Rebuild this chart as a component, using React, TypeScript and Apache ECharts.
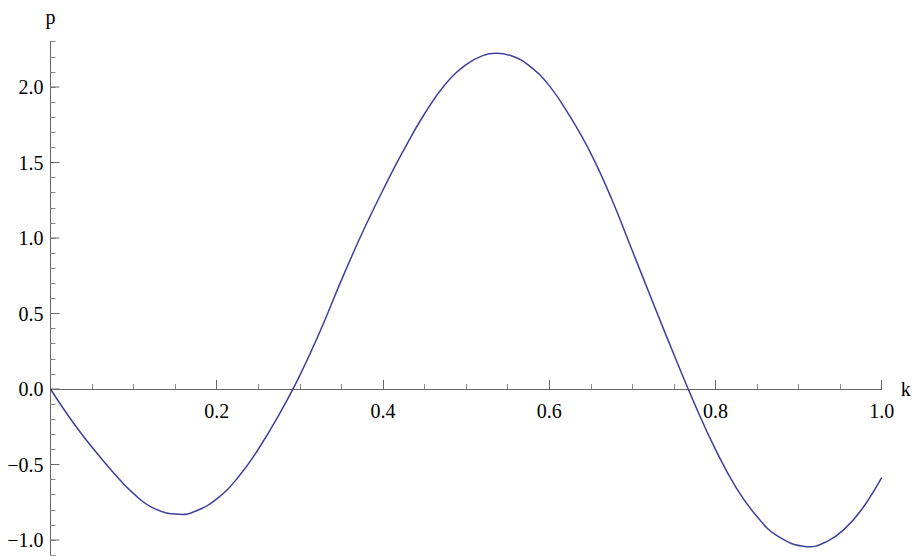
import React, { useEffect, useRef } from "react";
import * as echarts from "echarts";

const kValues = [0, 0.025, 0.05, 0.075, 0.1, 0.125, 0.155, 0.175, 0.2, 0.225, 0.25, 0.275, 0.3, 0.325, 0.35, 0.375, 0.4, 0.425, 0.45, 0.475, 0.5, 0.52, 0.5365, 0.555, 0.575, 0.6, 0.625, 0.65, 0.675, 0.7, 0.725, 0.75, 0.775, 0.8, 0.825, 0.85, 0.875, 0.909, 0.935, 0.955, 0.975, 1.0];
const pValues = [0, -0.205, -0.386, -0.549, -0.693, -0.792, -0.83, -0.808, -0.728, -0.59, -0.399, -0.17, 0.09, 0.391, 0.721, 1.033, 1.318, 1.583, 1.823, 2.018, 2.148, 2.208, 2.223, 2.205, 2.145, 2.009, 1.805, 1.561, 1.26, 0.915, 0.57, 0.228, -0.1, -0.4, -0.655, -0.845, -0.975, -1.044, -1.007, -0.928, -0.805, -0.587];
const xTickLabels = ["0.2", "0.4", "0.6", "0.8", "1.0"];
const yMajorTicks = [-1.0, -0.5, 0.0, 0.5, 1.0, 1.5, 2.0];

const FONT = "'Liberation Serif', 'DejaVu Serif', 'Times New Roman', serif";
const AXIS_COLOR = "#666666";
const MINOR_COLOR = "#8a8a8a";
const CURVE_COLOR = "#3f3f9c";

export default function App() {
  const ref = useRef<HTMLDivElement>(null);
  useEffect(() => {
    if (!ref.current) return;
    const chart = echarts.init(ref.current, undefined, { renderer: "svg" });
    const fmtY = (v: number) => {
      const r = Math.round(v * 10) / 10;
      if (Math.abs(r * 2 - Math.round(r * 2)) > 1e-9) return "";
      const s = Math.abs(r).toFixed(1);
      return r < 0 ? "\u2212" + s : s;
    };
    chart.setOption({
      animation: false,
      backgroundColor: "#ffffff",
      grid: { left: 50.5, right: 31.3, top: 41.7, bottom: 0.9, outerBoundsMode: "none" },
      xAxis: {
        type: "value",
        min: 0,
        max: 1,
        interval: 0.2,
        name: "k",
        nameLocation: "end",
        nameGap: 19,
        nameTextStyle: { fontFamily: FONT, fontSize: 20, color: "#000" },
        axisLine: { show: true, onZero: true, lineStyle: { color: AXIS_COLOR, width: 1 } },
        axisTick: { show: true, inside: true, length: 9, lineStyle: { color: AXIS_COLOR, width: 1 } },
        minorTick: { show: true, splitNumber: 4, length: 5, lineStyle: { color: MINOR_COLOR, width: 1 } },
        splitLine: { show: false },
        minorSplitLine: { show: false },
        axisLabel: { show: false },
      },
      yAxis: {
        type: "value",
        min: -1.1,
        max: 2.3,
        interval: 0.1,
        name: "p",
        nameLocation: "end",
        nameGap: 15,
        nameTextStyle: { fontFamily: FONT, fontSize: 20, color: "#000" },
        axisLine: { show: true, onZero: true, lineStyle: { color: AXIS_COLOR, width: 1 } },
        axisTick: { show: true, inside: true, length: 5, lineStyle: { color: MINOR_COLOR, width: 1 } },
        splitLine: { show: false },
        axisLabel: {
          fontFamily: FONT,
          fontSize: 20,
          color: "#000",
          margin: 7,
          formatter: fmtY,
        },
      },
      series: [
        {
          type: "custom",
          name: "p(k)",
          data: kValues.map((k, i) => [k, pValues[i]]),
          encode: { x: 0, y: 1 },
          renderItem: (params: any, api: any) => {
            if (params.dataIndex !== 0) return null;
            const pts = kValues.map((k, i) => api.coord([k, pValues[i]]));
            return {
              type: "polyline",
              shape: { points: pts, smooth: 0.45 },
              style: { stroke: CURVE_COLOR, lineWidth: 1.5, fill: "none" },
            };
          },
          silent: true,
          z: 3,
        },
        {
          type: "custom",
          data: yMajorTicks.map((v) => [0, v]),
          encode: { x: 0, y: 1 },
          renderItem: (_params: any, api: any) => {
            const pt = api.coord([api.value(0), api.value(1)]);
            return {
              type: "line",
              shape: { x1: pt[0], y1: pt[1], x2: pt[0] + 9, y2: pt[1] },
              style: { stroke: AXIS_COLOR, lineWidth: 1 },
            };
          },
          silent: true,
          z: 2,
        },
        {
          type: "custom",
          data: xTickLabels.map((t) => [parseFloat(t), 0]),
          encode: { x: 0, y: 1 },
          renderItem: (params: any, api: any) => {
            const pt = api.coord([api.value(0), api.value(1)]);
            return {
              type: "text",
              x: pt[0],
              y: pt[1] + 12,
              style: {
                text: xTickLabels[params.dataIndex],
                fontFamily: FONT,
                fontSize: 20,
                fill: "#000",
                align: "center",
                verticalAlign: "top",
              },
            };
          },
          silent: true,
          z: 4,
        },
      ],
    });
    return () => chart.dispose();
  }, []);
  return (
    <div
      ref={ref}
      style={{ position: "fixed", left: 0, top: 0, width: 913, height: 556, background: "#fff" }}
    />
  );
}
